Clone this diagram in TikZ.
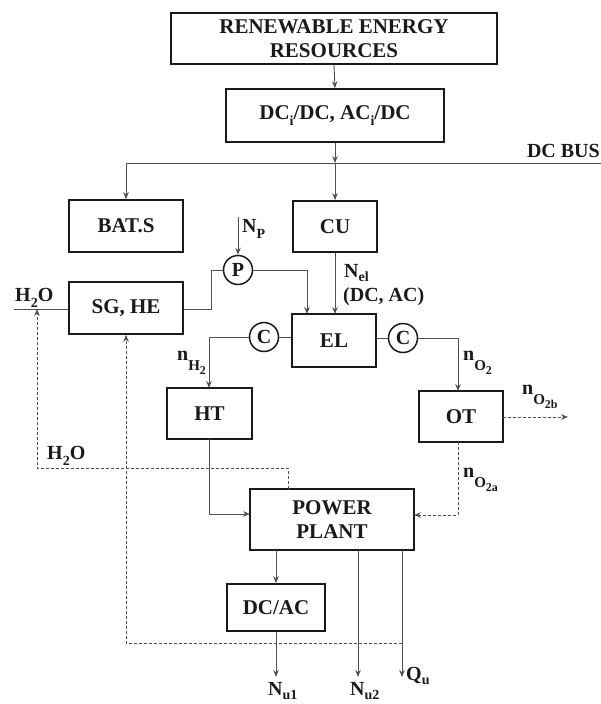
\documentclass[tikz,border=0pt]{standalone}
\usepackage{fontspec}
\setmainfont{Liberation Serif}
\usetikzlibrary{arrows.meta}
\newcommand{\lowa}[1]{\raisebox{-0.3em}{\fontsize{14}{14}\selectfont #1}}
\newcommand{\lowd}[1]{\raisebox{-0.2em}{\fontsize{14}{14}\selectfont #1}}
\newcommand{\lowb}[1]{\raisebox{-0.5em}{\fontsize{15}{15}\selectfont #1}}
\newcommand{\lowc}[1]{\raisebox{-0.3em}{\fontsize{12}{12}\selectfont #1}}
\definecolor{boxc}{HTML}{1A1A1A}
\definecolor{linec}{HTML}{505050}
\begin{document}
\begin{tikzpicture}[x=1pt,y=-1pt,
  box/.style={draw=boxc,line width=1.6pt,font=\fontsize{21}{24}\selectfont\bfseries,align=center,inner sep=0pt,text=boxc},
  circ/.style={circle,draw=boxc,line width=1.5pt,minimum size=29pt,inner sep=0pt,font=\fontsize{20}{20}\selectfont\bfseries,text=boxc},
  lbl/.style={font=\fontsize{20}{22}\selectfont\bfseries,inner sep=0pt,text=boxc,align=left},
  conn/.style={draw=linec,line width=0.9pt},
  arr/.style={conn,-{Stealth[length=7pt,width=5.5pt]}},
  darr/.style={conn,dash pattern=on 3pt off 2pt,-{Stealth[length=7pt,width=5.5pt,sep=0pt]}},
  dline/.style={conn,dash pattern=on 3pt off 2pt}]
\useasboundingbox (0,0) rectangle (601,704);
\fill[white] (0,0) rectangle (601,704);

% boxes
\node[box,minimum width=326pt,minimum height=51pt] (res) at (334,38.5) {RENEWABLE ENERGY\\RESOURCES};
\node[box,minimum width=218pt,minimum height=53pt] (conv) at (335,115.5) {DC\lowa{i}/DC, AC\lowa{i}/DC};
\node[box,minimum width=114pt,minimum height=52pt] (bat) at (126,226) {BAT.S};
\node[box,minimum width=84pt,minimum height=51pt] (cu) at (335,226.5) {CU};
\node[box,minimum width=114pt,minimum height=52pt] (sg) at (126,308) {SG, HE};
\node[box,minimum width=84pt,minimum height=53pt] (el) at (334,340.5) {EL};
\node[box,minimum width=85pt,minimum height=51pt] (ht) at (209.5,413.5) {HT};
\node[box,minimum width=84pt,minimum height=51pt] (ot) at (461,416.5) {OT};
\node[box,minimum width=164pt,minimum height=61pt] (pp) at (332,519.5) {POWER\\PLANT};
\node[box,minimum width=98pt,minimum height=47pt] (dcac) at (276,607.5) {DC/AC};

% circles
\node[circ] (p) at (238,270) {P};
\node[circ] (c1) at (264,337) {C};
\node[circ] (c2) at (403,338) {C};

% coordinates
\coordinate (busL) at (126,163);
\coordinate (busR) at (601,163);
\coordinate (busC) at (335,163);
\coordinate (npS) at (238,217);
\coordinate (sgA) at (211,309);
\coordinate (sgB) at (211,270);
\coordinate (pA) at (307,270);
\coordinate (pB) at (307,314);
\coordinate (c1A) at (209,337);
\coordinate (htN) at (209,388);
\coordinate (c2A) at (458,338);
\coordinate (otN) at (458,391);
\coordinate (otE) at (503,417);
\coordinate (o2b) at (568,417);
\coordinate (otS) at (458,442);
\coordinate (otB) at (458,515);
\coordinate (ppE) at (414,515);
\coordinate (htS) at (209,439);
\coordinate (htB) at (209,514);
\coordinate (ppW) at (250,514);
\coordinate (ppT) at (288,489);
\coordinate (wA) at (288,468);
\coordinate (wB) at (37,468);
\coordinate (wC) at (37,309);
\coordinate (h2oL) at (14,309);
\coordinate (pp1) at (276,550);
\coordinate (nu1) at (276,677);
\coordinate (pp2) at (358,550);
\coordinate (nu2) at (358,677);
\coordinate (pp3) at (402,550);
\coordinate (qu) at (402,677);
\coordinate (qA) at (402,643);
\coordinate (qB) at (126,643);

% connectors
\draw[arr] (res.south) -- (conv.north);
\draw[arr] (conv.south) -- (busC);
\draw[conn] (busR) -- (busL);
\draw[arr] (busL) -- (bat.north);
\draw[arr] (busC) -- (cu.north);
\draw[arr] (npS) -- (p.north);
\draw[conn] (sg.east |- sgA) -- (sgA) -- (sgB) -- (p.west);
\draw[arr] (p.east) -- (pA) -- (pB);
\draw[arr] (cu.south) -- (cu.south |- pB);
\draw[conn] (c1.east) -- (c1.east -| el.west);
\draw[arr] (c1.west) -- (c1A) -- (htN);
\draw[conn] (c2.west) -- (c2.west -| el.east);
\draw[arr] (c2.east) -- (c2A) -- (otN);
\draw[darr] (otE) -- (o2b);
\draw[darr] (otS) -- (otB) -- (ppE);
\draw[arr] (htS) -- (htB) -- (ppW);
\draw[darr] (ppT) -- (wA) -- (wB) -- (wC);
\draw[conn] (h2oL) -- (sg.west |- h2oL);
\draw[arr] (pp1) -- (dcac.north);
\draw[arr] (dcac.south) -- (nu1);
\draw[arr] (pp2) -- (nu2);
\draw[arr] (pp3) -- (qu);
\draw[darr] (qA) -- (qB) -- (sg.south);

% labels
\node[lbl,anchor=base east] (dcbus) at (600,157) {DC BUS};
\node[lbl,anchor=base west] (np) at (242,232) {N\lowa{P}};
\node[lbl,anchor=base west] (h2o1) at (15,301) {H\lowa{2}O};
\node[lbl,anchor=base west] (nel) at (344,277) {N\lowd{el}};
\node[lbl,anchor=base west] (dcacl) at (343,301) {(DC, AC)};
\node[lbl,anchor=base west] (nh2) at (177,360) {n\lowb{H\lowc{2}}};
\node[lbl,anchor=base west] (no2) at (463,360) {n\lowb{O\lowc{2}}};
\node[lbl,anchor=base west] (no2b) at (522,394) {n\lowb{O\lowc{2b}}};
\node[lbl,anchor=base west] (no2a) at (463,477) {n\lowb{O\lowc{2a}}};
\node[lbl,anchor=base west] (h2o2) at (47,459) {H\lowa{2}O};
\node[lbl,anchor=base west] (nu1l) at (268,695) {N\lowd{u1}};
\node[lbl,anchor=base west] (nu2l) at (350,695) {N\lowd{u2}};
\node[lbl,anchor=base west] (qul) at (406,680) {Q\lowd{u}};
\end{tikzpicture}
\end{document}
